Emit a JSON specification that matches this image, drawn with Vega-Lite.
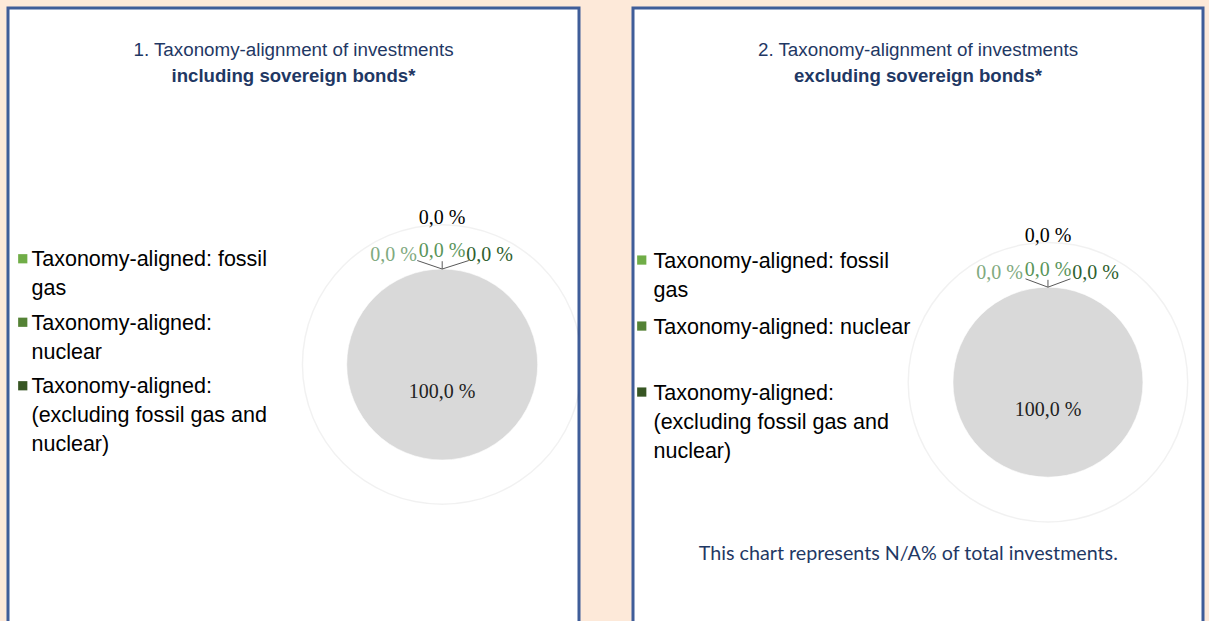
{
  "$schema": "https://vega.github.io/schema/vega-lite/v6.json",
  "background": "#FDE9D9",
  "padding": {"left": 6, "top": 6, "right": 5, "bottom": 0},
  "spacing": 54,
  "bounds": "flush",
  "config": {
    "view": {"fill": "#FFFFFF", "stroke": "#3F5D99", "strokeWidth": 3},
    "font": "Liberation Sans",
    "style": {"guide-label": {"lineHeight": 29, "dy": -9.5}}
  },
  "datasets": {
    "incl": [
      {"category": "Taxonomy-aligned: fossil gas", "value": 0},
      {"category": "Taxonomy-aligned: nuclear", "value": 0},
      {"category": "Taxonomy-aligned: (excluding fossil gas and nuclear)", "value": 0},
      {"category": "Non Taxonomy-aligned", "value": 100}
    ],
    "excl": [
      {"category": "Taxonomy-aligned: fossil gas", "value": 0},
      {"category": "Taxonomy-aligned: nuclear", "value": 0},
      {"category": "Taxonomy-aligned: (excluding fossil gas and nuclear)", "value": 0},
      {"category": "Non Taxonomy-aligned", "value": 100}
    ],
    "note": [
      {"note": "This chart represents N/A% of total investments."}
    ]
  },
  "resolve": {"scale": {"color": "independent", "theta": "independent", "x": "independent", "y": "independent"}, "legend": {"color": "independent"}},
  "hconcat": [
    {
      "width": 571,
      "height": 620,
      "data": {"name": "incl"},
      "transform": [
        {"calculate": "replace(format(datum.value, '.1f'), '.', ',') + ' %'", "as": "label"}
      ],
      "title": {
        "text": "1. Taxonomy-alignment of investments",
        "subtitle": "including sovereign bonds*",
        "fontSize": 18.8, "subtitleFontSize": 18.6,
        "fontWeight": "normal", "subtitleFontWeight": "bold",
        "color": "#1F3864", "subtitleColor": "#1F3864",
        "font": "Liberation Sans", "subtitleFont": "Liberation Sans",
        "anchor": "middle", "frame": "group", "offset": -77.5, "subtitlePadding": 7.5
      },
      "encoding": {
        "x": {"datum": 0.7604, "type": "quantitative", "scale": {"domain": [0, 1], "nice": false, "zero": false}, "axis": null},
        "y": {"datum": 0.575, "type": "quantitative", "scale": {"domain": [0, 1], "nice": false, "zero": false, "reverse": true}, "axis": null}
      },
      "layer": [
        {
          "transform": [{"filter": "datum.category == 'Non Taxonomy-aligned'"}],
          "mark": {"type": "arc", "innerRadius": 139, "outerRadius": 140.5, "fill": "#000000", "fillOpacity": 0.055, "clip": true},
          "encoding": {"theta": {"field": "value", "type": "quantitative", "stack": true}}
        },
        {
          "mark": {"type": "arc", "outerRadius": 95.5, "stroke": "#FFFFFF", "strokeWidth": 0.6},
          "encoding": {
            "theta": {"field": "value", "type": "quantitative", "stack": true},
            "color": {
              "field": "category", "type": "nominal",
              "scale": {
                "domain": ["Taxonomy-aligned: fossil gas", "Taxonomy-aligned: nuclear", "Taxonomy-aligned: (excluding fossil gas and nuclear)", "Non Taxonomy-aligned"],
                "range": ["#70AD47", "#548235", "#375623", "#D9D9D9"]
              },
              "legend": {
                "values": ["Taxonomy-aligned: fossil gas", "Taxonomy-aligned: nuclear", "Taxonomy-aligned: (excluding fossil gas and nuclear)"],
                "title": null,
                "orient": "none", "legendX": 4, "legendY": 240,
                "padding": 0,
                "symbolType": "square", "symbolSize": 85, "symbolStrokeWidth": 0,
                "labelFont": "Liberation Sans", "labelFontSize": 21.5, "labelColor": "#000000",
                "labelOffset": -2, "labelLimit": 400, "rowPadding": 11.5,
                "labelBaseline": "top",
                "labelExpr": "datum.value == 'Taxonomy-aligned: fossil gas' ? ['Taxonomy-aligned: fossil', 'gas'] : datum.value == 'Taxonomy-aligned: nuclear' ? ['Taxonomy-aligned:', 'nuclear'] : ['Taxonomy-aligned:', '(excluding fossil gas and', 'nuclear)']"
              }
            }
          }
        },
        {
          "transform": [{"filter": "datum.category == 'Taxonomy-aligned: fossil gas'"}],
          "mark": {"type": "rule", "color": "#595959", "strokeWidth": 1},
          "encoding": {"x": {"datum": 0.7604}, "y": {"datum": 0.421}, "x2": {"datum": 0.7167}, "y2": {"datum": 0.4073}}
        },
        {
          "transform": [{"filter": "datum.category == 'Taxonomy-aligned: nuclear'"}],
          "mark": {"type": "rule", "color": "#595959", "strokeWidth": 1},
          "encoding": {"x": {"datum": 0.7604}, "y": {"datum": 0.421}, "x2": {"datum": 0.7604}, "y2": {"datum": 0.4084}}
        },
        {
          "transform": [{"filter": "datum.category == 'Taxonomy-aligned: (excluding fossil gas and nuclear)'"}],
          "mark": {"type": "rule", "color": "#595959", "strokeWidth": 1},
          "encoding": {"x": {"datum": 0.7604}, "y": {"datum": 0.421}, "x2": {"datum": 0.807}, "y2": {"datum": 0.4073}}
        },
        {
          "transform": [{"filter": "datum.category != 'Non Taxonomy-aligned'"},
                        {"aggregate": [{"op": "sum", "field": "value", "as": "value"}]},
                        {"calculate": "replace(format(datum.value, '.1f'), '.', ',') + ' %'", "as": "label"}],
          "mark": {"type": "text", "radius": 147, "font": "Liberation Serif", "fontSize": 20, "color": "#000000", "baseline": "middle"},
          "encoding": {"theta": {"field": "value", "type": "quantitative", "stack": true}, "text": {"field": "label"}}
        },
        {
          "transform": [{"filter": "datum.category == 'Taxonomy-aligned: fossil gas'"}],
          "mark": {"type": "text", "radius": 110, "dx": -48.5, "font": "Liberation Serif", "fontSize": 20, "color": "#7FAA7F", "baseline": "middle"},
          "encoding": {"theta": {"field": "value", "type": "quantitative", "stack": true}, "text": {"field": "label"}}
        },
        {
          "transform": [{"filter": "datum.category == 'Taxonomy-aligned: nuclear'"}],
          "mark": {"type": "text", "radius": 114, "font": "Liberation Serif", "fontSize": 20, "color": "#5A955A", "baseline": "middle"},
          "encoding": {"theta": {"field": "value", "type": "quantitative", "stack": true}, "text": {"field": "label"}}
        },
        {
          "transform": [{"filter": "datum.category == 'Taxonomy-aligned: (excluding fossil gas and nuclear)'"}],
          "mark": {"type": "text", "radius": 110, "dx": 47.5, "font": "Liberation Serif", "fontSize": 20, "color": "#2F5F2F", "baseline": "middle"},
          "encoding": {"theta": {"field": "value", "type": "quantitative", "stack": true}, "text": {"field": "label"}}
        },
        {
          "transform": [{"filter": "datum.category == 'Non Taxonomy-aligned'"}],
          "mark": {"type": "text", "radius": 27, "font": "Liberation Serif", "fontSize": 20, "color": "#222222", "baseline": "middle"},
          "encoding": {"theta": {"field": "value", "type": "quantitative", "stack": true}, "text": {"field": "label"}}
        }
      ]
    },
    {
      "width": 570,
      "height": 620,
      "data": {"name": "excl"},
      "transform": [
        {"calculate": "replace(format(datum.value, '.1f'), '.', ',') + ' %'", "as": "label"}
      ],
      "title": {
        "text": "2. Taxonomy-alignment of investments",
        "subtitle": "excluding sovereign bonds*",
        "fontSize": 18.8, "subtitleFontSize": 18.6,
        "fontWeight": "normal", "subtitleFontWeight": "bold",
        "color": "#1F3864", "subtitleColor": "#1F3864",
        "font": "Liberation Sans", "subtitleFont": "Liberation Sans",
        "anchor": "middle", "frame": "group", "offset": -77.5, "subtitlePadding": 7.5
      },
      "encoding": {
        "x": {"datum": 0.728, "type": "quantitative", "scale": {"domain": [0, 1], "nice": false, "zero": false}, "axis": null},
        "y": {"datum": 0.6035, "type": "quantitative", "scale": {"domain": [0, 1], "nice": false, "zero": false, "reverse": true}, "axis": null}
      },
      "layer": [
        {
          "transform": [{"filter": "datum.category == 'Non Taxonomy-aligned'"}],
          "mark": {"type": "arc", "innerRadius": 139, "outerRadius": 140.5, "fill": "#000000", "fillOpacity": 0.055, "clip": true},
          "encoding": {"theta": {"field": "value", "type": "quantitative", "stack": true}}
        },
        {
          "mark": {"type": "arc", "outerRadius": 95, "stroke": "#FFFFFF", "strokeWidth": 0.6},
          "encoding": {
            "theta": {"field": "value", "type": "quantitative", "stack": true},
            "color": {
              "field": "category", "type": "nominal",
              "scale": {
                "domain": ["Taxonomy-aligned: fossil gas", "Taxonomy-aligned: nuclear", "Taxonomy-aligned: (excluding fossil gas and nuclear)", "Non Taxonomy-aligned"],
                "range": ["#70AD47", "#548235", "#375623", "#D9D9D9"]
              },
              "legend": {
                "values": ["Taxonomy-aligned: fossil gas", "Taxonomy-aligned: nuclear", "Taxonomy-aligned: (excluding fossil gas and nuclear)"],
                "title": null,
                "orient": "none", "legendX": -2, "legendY": 241.3,
                "padding": 0,
                "symbolType": "square", "symbolSize": 85, "symbolStrokeWidth": 0,
                "labelFont": "Liberation Sans", "labelFontSize": 21.5, "labelColor": "#000000",
                "labelOffset": 1, "labelLimit": 400, "rowPadding": 14,
                "labelBaseline": "top",
                "labelExpr": "datum.value == 'Taxonomy-aligned: fossil gas' ? ['Taxonomy-aligned: fossil', 'gas'] : datum.value == 'Taxonomy-aligned: nuclear' ? ['Taxonomy-aligned: nuclear', ''] : ['Taxonomy-aligned:', '(excluding fossil gas and', 'nuclear)']"
              }
            }
          }
        },
        {
          "transform": [{"filter": "datum.category == 'Taxonomy-aligned: fossil gas'"}],
          "mark": {"type": "rule", "color": "#595959", "strokeWidth": 1},
          "encoding": {"x": {"datum": 0.728}, "y": {"datum": 0.4503}, "x2": {"datum": 0.6886}, "y2": {"datum": 0.4368}}
        },
        {
          "transform": [{"filter": "datum.category == 'Taxonomy-aligned: nuclear'"}],
          "mark": {"type": "rule", "color": "#595959", "strokeWidth": 1},
          "encoding": {"x": {"datum": 0.728}, "y": {"datum": 0.4503}, "x2": {"datum": 0.728}, "y2": {"datum": 0.4384}}
        },
        {
          "transform": [{"filter": "datum.category == 'Taxonomy-aligned: (excluding fossil gas and nuclear)'"}],
          "mark": {"type": "rule", "color": "#595959", "strokeWidth": 1},
          "encoding": {"x": {"datum": 0.728}, "y": {"datum": 0.4503}, "x2": {"datum": 0.7675}, "y2": {"datum": 0.4368}}
        },
        {
          "transform": [{"filter": "datum.category != 'Non Taxonomy-aligned'"},
                        {"aggregate": [{"op": "sum", "field": "value", "as": "value"}]},
                        {"calculate": "replace(format(datum.value, '.1f'), '.', ',') + ' %'", "as": "label"}],
          "mark": {"type": "text", "radius": 146, "font": "Liberation Serif", "fontSize": 20, "color": "#000000", "baseline": "middle"},
          "encoding": {"theta": {"field": "value", "type": "quantitative", "stack": true}, "text": {"field": "label"}}
        },
        {
          "transform": [{"filter": "datum.category == 'Taxonomy-aligned: fossil gas'"}],
          "mark": {"type": "text", "radius": 109.5, "dx": -48.5, "font": "Liberation Serif", "fontSize": 20, "color": "#7FAA7F", "baseline": "middle"},
          "encoding": {"theta": {"field": "value", "type": "quantitative", "stack": true}, "text": {"field": "label"}}
        },
        {
          "transform": [{"filter": "datum.category == 'Taxonomy-aligned: nuclear'"}],
          "mark": {"type": "text", "radius": 112, "font": "Liberation Serif", "fontSize": 20, "color": "#5A955A", "baseline": "middle"},
          "encoding": {"theta": {"field": "value", "type": "quantitative", "stack": true}, "text": {"field": "label"}}
        },
        {
          "transform": [{"filter": "datum.category == 'Taxonomy-aligned: (excluding fossil gas and nuclear)'"}],
          "mark": {"type": "text", "radius": 109.5, "dx": 47.5, "font": "Liberation Serif", "fontSize": 20, "color": "#2F5F2F", "baseline": "middle"},
          "encoding": {"theta": {"field": "value", "type": "quantitative", "stack": true}, "text": {"field": "label"}}
        },
        {
          "transform": [{"filter": "datum.category == 'Non Taxonomy-aligned'"}],
          "mark": {"type": "text", "radius": 28, "font": "Liberation Serif", "fontSize": 20, "color": "#222222", "baseline": "middle"},
          "encoding": {"theta": {"field": "value", "type": "quantitative", "stack": true}, "text": {"field": "label"}}
        },
        {
          "data": {"name": "note"},
          "transform": [],
          "mark": {"type": "text", "font": "Lato", "fontSize": 19.7, "color": "#1F3864", "baseline": "middle"},
          "encoding": {
            "x": {"datum": 0.483, "type": "quantitative"},
            "y": {"datum": 0.8805, "type": "quantitative"},
            "text": {"field": "note"}
          }
        }
      ]
    }
  ]
}
